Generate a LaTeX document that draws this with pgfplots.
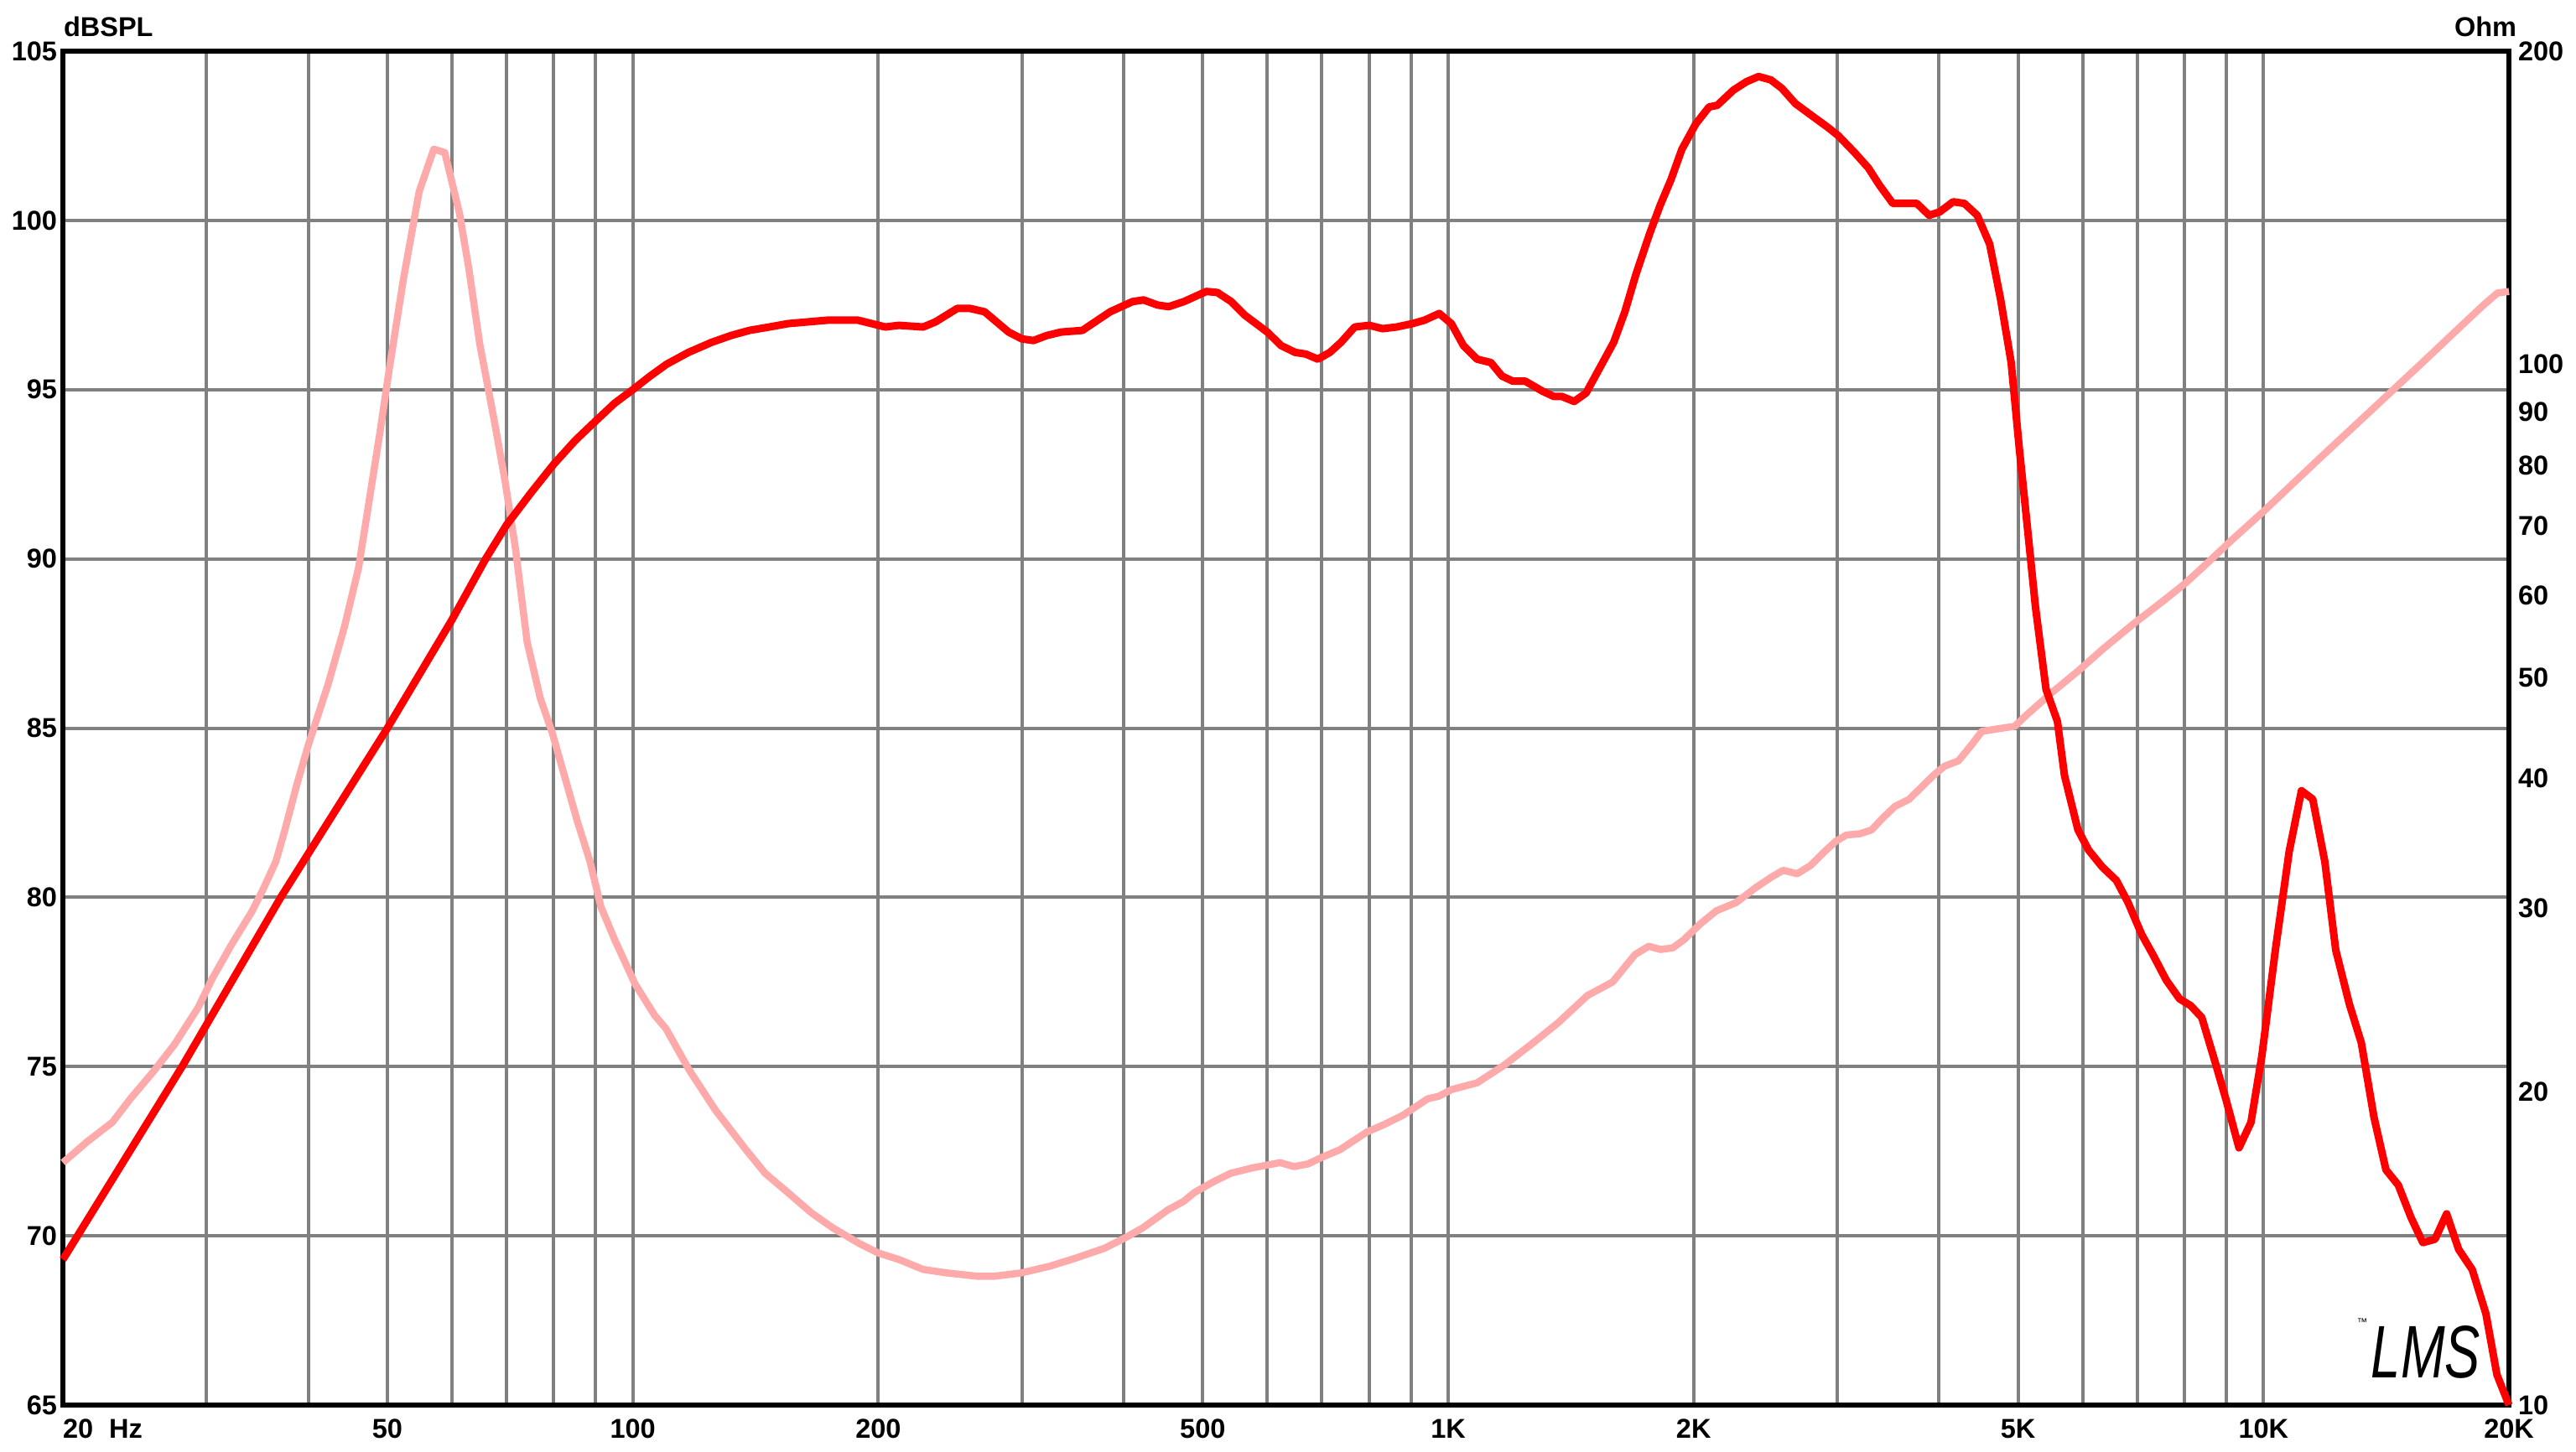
\documentclass[border=0pt]{standalone}
\usepackage{fontspec}
\setmainfont{Liberation Sans}
\usepackage{graphicx}
\usepackage{pgfplots}
\pgfplotsset{compat=1.18}

\definecolor{splred}{RGB}{255,0,0}
\definecolor{zpink}{RGB}{255,170,170}
\definecolor{gridgray}{RGB}{128,128,128}

\begin{document}
\begin{tikzpicture}[font=\fontsize{6.5}{7.8}\selectfont\bfseries]
\path[use as bounding box] (-15pt,-11pt) rectangle (599.4pt,335.2pt);

% frame, grid and the dB / Hz labels
\begin{semilogxaxis}[
  width=583.4pt, height=323pt, scale only axis,
  at={(0,0)}, anchor=south west,
  xmin=20, xmax=20000, ymin=65, ymax=105,
  clip=false,
  major tick length=0pt, minor tick length=0pt,
  ytick={65,70,75,80,85,90,95,100,105},
  yticklabels={65,70,75,80,85,90,95,100,105},
  xtick={20,50,100,200,500,1000,2000,5000,10000,20000},
  xticklabels={\makebox[0pt][l]{20\hspace{3.8pt}Hz},50,100,200,500,1K,2K,5K,10K,20K},
  minor xtick={30,40,60,70,80,90,300,400,600,700,800,900,3000,4000,6000,7000,8000,9000},
  grid=both,
  major grid style={gridgray, line width=0.8pt},
  minor grid style={gridgray, line width=0.8pt},
  axis line style={black, line width=1.3pt},
  xticklabel style={anchor=north, inner sep=0pt, yshift=-3.2pt},
  yticklabel style={anchor=east, inner sep=0pt, xshift=-1.2pt},
]
\node[anchor=base west, inner sep=0pt, yshift=3.6pt] at (rel axis cs:0,1) {dBSPL};
\node[anchor=base east, inner sep=0pt, xshift=2pt, yshift=3.6pt] at (rel axis cs:1,1) {Ohm};
\node[inner sep=0pt] at (rel axis cs:0.966,0.039) {\resizebox{26pt}{12.4pt}{\mdseries\itshape LMS}};
\node[inner sep=0pt, font=\fontsize{2.5}{3}\selectfont] at (rel axis cs:0.940,0.061) {™};
\end{semilogxaxis}

% impedance, right axis
\begin{loglogaxis}[
  width=583.4pt, height=323pt, scale only axis,
  at={(0,0)}, anchor=south west,
  xmin=20, xmax=20000, ymin=10, ymax=200,
  clip=false,
  major tick length=0pt, minor tick length=0pt,
  ytick={10,20,30,40,50,60,70,80,90,100,200},
  yticklabels={10,20,30,40,50,60,70,80,90,100,200},
  minor ytick={},
  yticklabel pos=right,
  xtick=\empty,
  axis line style={draw=none},
  yticklabel style={anchor=west, inner sep=0pt, xshift=2pt},
]
\addplot[zpink, line width=1.7pt, line join=round] coordinates {
  (20,17.1)(21.4,17.9)(23.0,18.7)(24.2,19.7)(25.8,20.9)(27.4,22.2)(29.3,24.1)
  (30.5,25.7)(32.2,27.7)(34.1,29.8)(35.2,31.3)(36.5,33.3)(37.4,35.6)(38.7,39.4)
  (40,43.1)(42.3,49.3)(44.3,56.0)(46.1,63.8)(48.9,85.5)(50.3,99.3)(52.3,120.6)
  (54.7,146.6)(57.0,161)(58.8,159.8)(61.3,139.6)(62.9,123.9)(64.9,104.6)
  (67.6,88.4)(69.7,77.3)(71.8,66.5)(74.2,54.1)(77.0,47.8)(79.7,44.2)(82.1,40.7)
  (85.4,36.5)(88.6,33.3)(91.4,30.1)(95,28.0)(100.6,25.4)(106.3,23.7)(109.8,23.0)
  (117.2,21.0)(126.3,19.2)(137.6,17.6)(145.3,16.7)(155,16.0)(165.6,15.3)
  (175.9,14.8)(189.5,14.3)(200,14.0)(212,13.8)(227,13.5)(242,13.4)(264,13.3)
  (278,13.3)(300,13.4)(325,13.6)(350,13.85)(379,14.15)(403,14.5)(422,14.8)
  (453,15.4)(474,15.7)(488,16.0)(516,16.4)(541,16.7)(575,16.9)(622,17.1)
  (647,16.95)(673,17.05)(700,17.3)(737,17.6)(795,18.3)(834,18.6)(881,19.0)
  (944,19.7)(973,19.8)(1010,20.1)(1085,20.4)(1170,21.2)(1263,22.2)(1364,23.3)
  (1482,24.75)(1591,25.5)(1695,27.1)(1762,27.6)(1822,27.4)(1886,27.5)(1946,28.0)
  (2038,29.0)(2132,29.85)(2255,30.4)(2380,31.4)(2497,32.2)(2575,32.65)(2679,32.4)
  (2782,33.0)(2891,34.0)(2986,34.8)(3078,35.3)(3198,35.4)(3306,35.7)(3405,36.6)
  (3530,37.6)(3675,38.2)(3812,39.3)(3940,40.3)(4061,41.1)(4225,41.6)(4385,43.1)
  (4513,44.4)(4766,44.7)(4953,44.9)(5115,46.0)(5487,48.3)(5933,50.8)(6358,53.3)
  (6920,56.3)(7480,59.0)(8015,61.6)(8525,64.4)(9142,67.8)(10030,72.4)(10840,76.7)
  (11710,81.2)(12650,85.9)(13670,90.9)(14770,96.2)(15960,101.8)(17240,107.8)
  (18630,114.1)(19360,117.1)(20000,117.5)
};
\end{loglogaxis}

% SPL response on top
\begin{semilogxaxis}[
  width=583.4pt, height=323pt, scale only axis,
  at={(0,0)}, anchor=south west,
  xmin=20, xmax=20000, ymin=65, ymax=105,
  clip=false, hide axis,
]
\addplot[splred, line width=1.8pt, line join=round] coordinates {
  (20,69.3)(28,75.0)(37,80.0)(50,85.0)(60,88.2)(66,90.0)(70,91.0)(75,91.95)
  (80,92.8)(85,93.5)(90,94.07)(95,94.6)(100,95.0)(105,95.4)(110,95.75)(117,96.1)
  (125,96.4)(132,96.6)(139,96.75)(147,96.85)(155,96.95)(173,97.05)(189,97.05)
  (204,96.85)(212,96.9)(227,96.85)(235,97.0)(250,97.4)(259,97.4)(270,97.3)
  (289,96.7)(300,96.5)(310,96.45)(322,96.6)(335,96.7)(356,96.75)(385,97.3)
  (410,97.6)(423,97.65)(440,97.5)(454,97.45)(474,97.6)(505,97.9)(521,97.87)
  (542,97.6)(563,97.2)(600,96.7)(624,96.3)(649,96.1)(669,96.05)(692,95.9)
  (716,96.1)(739,96.4)(768,96.85)(800,96.9)(831,96.8)(864,96.85)(904,96.95)
  (935,97.05)(975,97.25)(1009,96.95)(1044,96.3)(1085,95.9)(1128,95.8)(1164,95.4)
  (1200,95.25)(1243,95.25)(1306,94.95)(1347,94.8)(1378,94.8)(1427,94.65)
  (1476,94.9)(1535,95.65)(1596,96.4)(1647,97.3)(1699,98.4)(1766,99.6)(1820,100.45)
  (1876,101.2)(1935,102.1)(2012,102.85)(2089,103.35)(2138,103.4)(2238,103.85)
  (2323,104.1)(2403,104.25)(2487,104.15)(2566,103.9)(2666,103.45)(2790,103.1)
  (2921,102.75)(3010,102.5)(3152,102.0)(3276,101.55)(3378,101.05)(3510,100.5)
  (3757,100.5)(3890,100.15)(4007,100.25)(4162,100.55)(4296,100.5)(4455,100.15)
  (4614,99.3)(4756,97.7)(4903,95.8)(5015,93.3)(5132,90.95)(5250,88.6)(5410,86.15)
  (5587,85.2)(5700,83.6)(5920,82.0)(6100,81.4)(6340,80.9)(6600,80.5)(6820,79.85)
  (7090,78.9)(7320,78.3)(7600,77.55)(7890,77.0)(8140,76.8)(8400,76.45)(8730,75.1)
  (9000,74.0)(9330,72.6)(9650,73.35)(9950,75.3)(10340,78.45)(10750,81.35)
  (11130,83.15)(11490,82.9)(11890,81.05)(12260,78.45)(12740,76.85)(13180,75.7)
  (13660,73.5)(14130,71.95)(14630,71.5)(15160,70.55)(15680,69.8)(16230,69.9)
  (16770,70.65)(17350,69.6)(18030,69.0)(18740,67.7)(19330,65.9)(20000,65.0)
};
\end{semilogxaxis}
\end{tikzpicture}
\end{document}
